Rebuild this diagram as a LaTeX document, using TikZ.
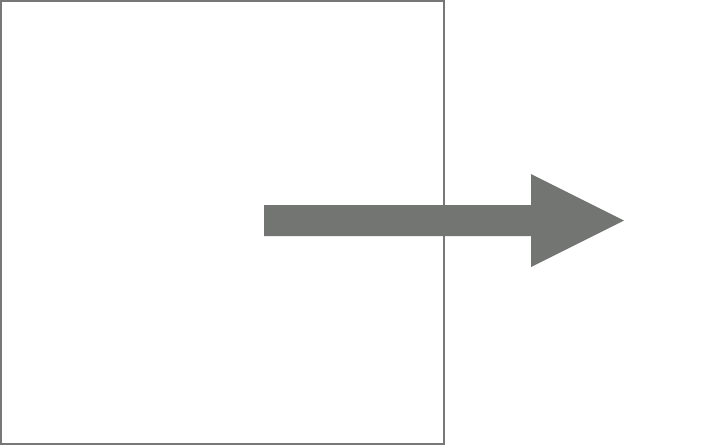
\documentclass[tikz,border=0pt]{standalone}
\definecolor{boxgray}{HTML}{777777}
\definecolor{arrowgray}{HTML}{737572}
\begin{document}
\begin{tikzpicture}[x=1pt,y=-1pt,
  frame/.style={draw=boxgray,line width=2pt},
  bigarrow/.style={fill=arrowgray,draw=none}]
\useasboundingbox (0,0) rectangle (718,445);
\fill[white] (0,0) rectangle (718,445);
\draw[frame] (1,1) rectangle (443.5,443.5);
\path[bigarrow] (264,205) -- (531,205) -- (531,174) -- (624,220.5) -- (531,267) -- (531,236) -- (264,236) -- cycle;
\end{tikzpicture}
\end{document}
